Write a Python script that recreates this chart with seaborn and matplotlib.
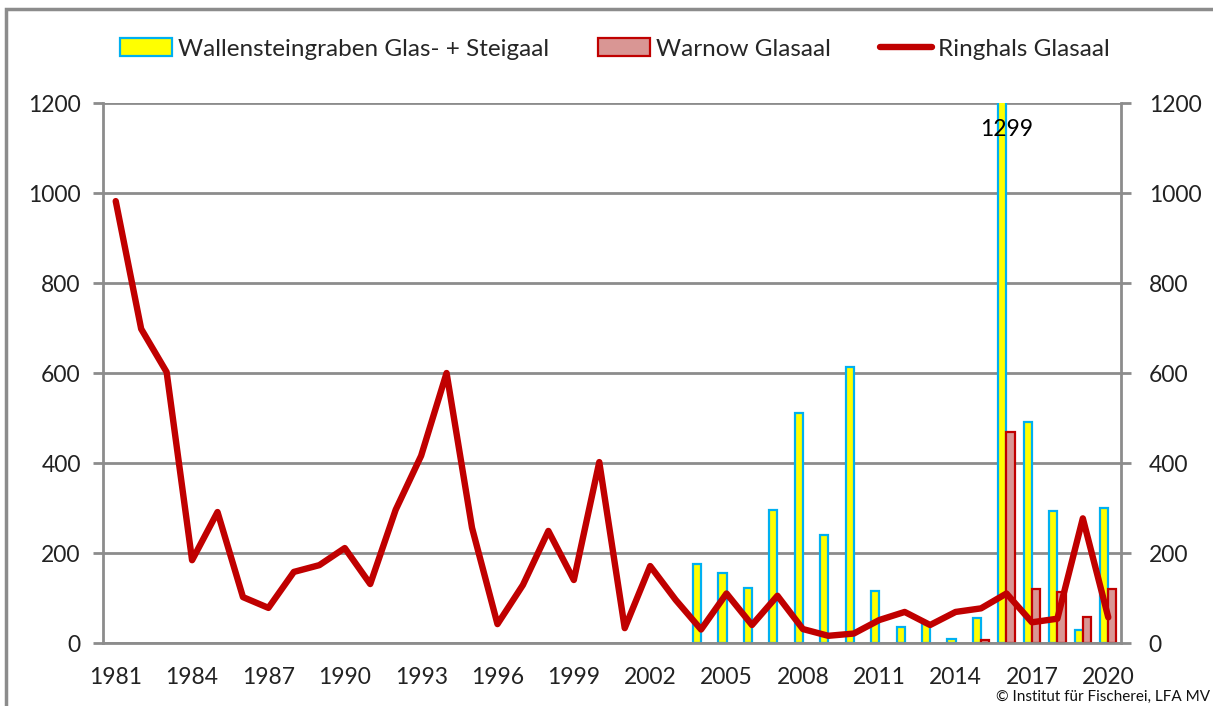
import numpy as np
import pandas as pd
import matplotlib
matplotlib.use("Agg")
import matplotlib.pyplot as plt
from matplotlib.patches import Rectangle, Patch
from matplotlib.lines import Line2D
import seaborn as sns

years = list(range(1981, 2021))
ringhals = [982, 698, 602, 184, 291, 102, 78, 158, 173, 211,
            131, 296, 416, 600, 256, 42, 129, 249, 140, 402,
            33, 171, 96, 30, 110, 40, 105, 31, 16, 21,
            51, 69, 40, 69, 77, 110, 46, 54, 277, 57]
wallenstein = [np.nan] * 23 + [175, 155, 123, 296, 511, 240, 613,
                               116, 36, 42, 10, 55, 1299, 491, 293, 30, 299]
warnow = [np.nan] * 34 + [6, 469, 121, 113, 58, 120]

s1 = "Wallensteingraben Glas- + Steigaal"
s2 = "Warnow Glasaal"
s3 = "Ringhals Glasaal"

sns.set_style("white")
plt.rcParams['font.family'] = ['Lato', 'DejaVu Sans']

df = pd.DataFrame({
    "year": [str(y) for y in years] * 2,
    "value": wallenstein + warnow,
    "series": [s1] * len(years) + [s2] * len(years),
})

fig = plt.figure(figsize=(12.13, 7.06), dpi=100)
ax = fig.add_axes([103 / 1213, 1 - 643 / 706, (1121 - 103) / 1213, (643 - 103) / 706])

sns.barplot(data=df, x="year", y="value", hue="series", order=[str(y) for y in years],
            hue_order=[s1, s2], palette=["#FFFF00", "#D99694"], width=0.64,
            ax=ax, legend=False, errorbar=None, saturation=1)
edgecols = ["#00B0F0", "#C00000"]
for cont, ec in zip(ax.containers, edgecols):
    for p in cont.patches:
        p.set_edgecolor(ec)
        p.set_linewidth(1.6)

sns.lineplot(x=np.arange(len(years)), y=ringhals, color="#C00000", lw=4.6,
             ax=ax, legend=False)

ax.set_ylim(0, 1200)
ax.set_xlim(-0.5, len(years) - 0.5)
ax.set_yticks(range(0, 1201, 200))
ax.set_yticklabels([str(v) for v in range(0, 1201, 200)], fontsize=16.5)
ax.set_xticks(np.arange(0, len(years), 3))
ax.set_xticklabels([str(years[i]) for i in range(0, len(years), 3)], fontsize=16.5)
ax.set_xticks(np.arange(-0.5, len(years), 1), minor=True)
ax.tick_params(axis="x", which="major", length=0, pad=17, colors="#222222")
ax.tick_params(axis="x", which="minor", length=7, width=2, color="#8C8C8C")
ax.tick_params(axis="y", length=7, width=2, color="#8C8C8C", labelcolor="#222222", pad=9)
ax.set_xlabel("")
ax.set_ylabel("")
ax.grid(axis="y", color="#8C8C8C", lw=2)
ax.set_axisbelow(True)
for side in ["left", "right", "bottom"]:
    ax.spines[side].set_visible(True)
    ax.spines[side].set_color("#8C8C8C")
    ax.spines[side].set_linewidth(2)
ax.spines["top"].set_visible(False)

ax2 = ax.twinx()
ax2.set_ylim(0, 1200)
ax2.set_yticks(range(0, 1201, 200))
ax2.set_yticklabels([str(v) for v in range(0, 1201, 200)], fontsize=16.5)
ax2.tick_params(axis="y", length=7, width=2, color="#8C8C8C", labelcolor="#222222", pad=13)
for sp in ax2.spines.values():
    sp.set_visible(False)

ax.text(years.index(2016), 1140, "1299", ha="center", va="center", fontsize=16.5, color="black")

handles = [
    Patch(facecolor="#FFFF00", edgecolor="#00B0F0", lw=1.6),
    Patch(facecolor="#D99694", edgecolor="#C00000", lw=1.6),
    Line2D([0], [0], color="#C00000", lw=4.6),
]
fig.legend(handles, [s1, s2, s3], loc="center", bbox_to_anchor=(0.507, 1 - 49 / 706),
           ncol=3, frameon=False, fontsize=17.5, handlelength=2.15, handleheight=0.72,
           handletextpad=0.25, columnspacing=2.0)

fig.add_artist(Rectangle((6 / 1213, -0.05), 1.2, 1 - 9 / 706 + 0.05, transform=fig.transFigure,
                         fill=False, edgecolor="#8C8C8C", lw=2.5))
fig.text(1210 / 1213, 1 - 697 / 706, "© Institut für Fischerei, LFA MV", ha="right", va="center",
         fontsize=11, color="#111111")

fig.savefig("out.png", dpi=100)
